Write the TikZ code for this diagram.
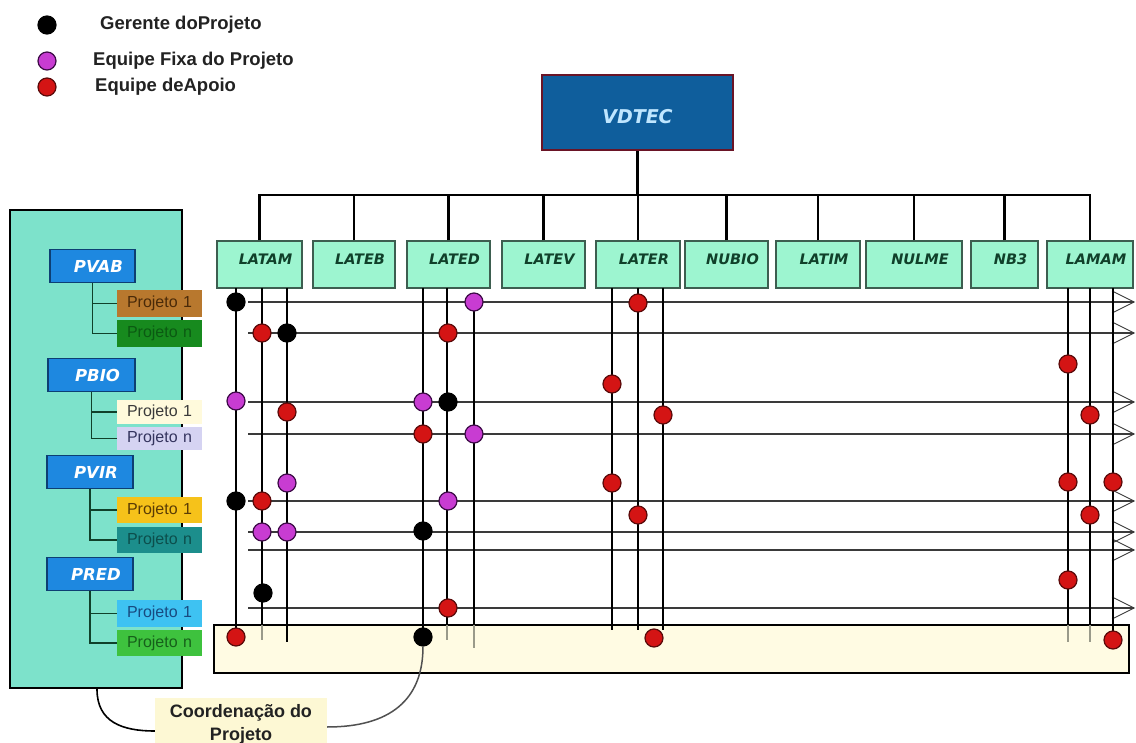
\documentclass[tikz,border=0pt]{standalone}
\usepackage{fontspec}
\setmainfont{Liberation Sans}
\newfontfamily\vfont{DejaVu Sans}[BoldItalicFont={DejaVu Sans Bold Oblique},ItalicFont={DejaVu Sans Oblique}]
\usetikzlibrary{arrows.meta}
\definecolor{mint}{HTML}{9DF5D0}
\definecolor{unitline}{HTML}{3D5E50}
\definecolor{unittxt}{HTML}{10402A}
\definecolor{panel}{HTML}{7DE2CB}
\definecolor{progblue}{HTML}{1E88E0}
\definecolor{progline}{HTML}{0D3F73}
\definecolor{vdblue}{HTML}{0F5E9C}
\definecolor{vdline}{HTML}{6A1426}
\definecolor{vdtxt}{HTML}{BFE6FF}
\definecolor{fixa}{HTML}{C83CD2}
\definecolor{fixaline}{HTML}{3C0A46}
\definecolor{apoio}{HTML}{D41414}
\definecolor{apoioline}{HTML}{5A0A0A}
\definecolor{pgray}{HTML}{3A3A3A}
\definecolor{coordfill}{HTML}{FFFBE3}
\definecolor{labelfill}{HTML}{FDF8D4}
\definecolor{legtxt}{HTML}{222222}
\definecolor{endgray}{HTML}{9A9A8A}
\definecolor{curvegray}{HTML}{505050}
\definecolor{prbrown}{HTML}{B8782E}\definecolor{tbrown}{HTML}{4A2A08}
\definecolor{prdkgreen}{HTML}{178A1E}\definecolor{tdkgreen}{HTML}{0B5A12}
\definecolor{prcream}{HTML}{FFFADC}\definecolor{tcream}{HTML}{3A3A3A}
\definecolor{prlav}{HTML}{D5D3F2}\definecolor{tlav}{HTML}{34345E}
\definecolor{prgold}{HTML}{F6C21A}\definecolor{tgold}{HTML}{5A3C05}
\definecolor{prteal}{HTML}{1C8E8C}\definecolor{tteal}{HTML}{0C4E4C}
\definecolor{prsky}{HTML}{3EC2F2}\definecolor{tsky}{HTML}{184A80}
\definecolor{prgreen}{HTML}{3EC23E}\definecolor{tgreen}{HTML}{16601A}
\begin{document}
\begin{tikzpicture}[x=1pt,y=-1pt,
	unit/.style={draw=unitline,fill=mint,line width=1.2pt,minimum height=47pt,inner sep=0pt,text height=11pt,text depth=11pt,text=unittxt,font=\vfont\bfseries\itshape\fontsize{14.5}{16}\selectfont,execute at begin node=\hspace*{12pt}},
	prog/.style={draw=progline,fill=progblue,line width=1.2pt,inner sep=0pt,text=white,font=\vfont\bfseries\itshape\fontsize{16.5}{18}\selectfont,execute at begin node=\hspace*{12pt}},
	proj/.style={minimum width=85pt,inner xsep=10pt,text width=65pt,align=left,inner ysep=0pt,font=\fontsize{16}{18}\selectfont},
	dot/.style={circle,minimum size=18pt,inner sep=0pt,line width=1.2pt},
	gm/.style={dot,fill=black,draw=black},
	fx/.style={dot,fill=fixa,draw=fixaline},
	ap/.style={dot,fill=apoio,draw=apoioline},
	legend/.style={anchor=west,inner sep=0pt,text=legtxt,font=\bfseries\fontsize{18.5}{20}\selectfont},
	pline/.style={line width=1.4pt,draw=pgray,-{Straight Barb[length=22pt,width=22pt,line width=0.8pt]}},
	vline/.style={line width=2.8pt}]
	\path[use as bounding box,fill=white] (0,0) rectangle (1136,743);
	\node[gm] (lgm) at (47,25) {};
	\node[fx] (lfx) at (47,61) {};
	\node[ap] (lap) at (47,87) {};
	\node[legend] (tgm) at (100,25) {Gerente doProjeto};
	\node[legend] (tfx) at (93,61) {Equipe Fixa do Projeto};
	\node[legend] (tap) at (95,87) {Equipe deApoio};
	\node[draw=vdline,fill=vdblue,line width=2.5pt,minimum width=191pt,minimum height=75pt,text height=23pt,text depth=0pt,text=vdtxt,font=\vfont\bfseries\itshape\fontsize{19}{22}\selectfont] (VDTEC) at (637.5,112.5) {VDTEC};
	\foreach \uname/\xx/\ww in {LATAM/259.5/85,LATEB/354/82,LATED/448.5/83,LATEV/543.5/83,LATER/638/84,NUBIO/726.5/83,LATIM/818/84,NULME/914/96,NB3/1004.5/67,LAMAM/1090/86}
		\node[unit,minimum width=\ww pt] (\uname) at (\xx,264.5) {\uname};
	\draw[line width=2.6pt] (VDTEC.south) -- (VDTEC.south |- 0,195);
	\draw[line width=2.6pt,line cap=rect] (LATAM.north |- 0,195) -- (LAMAM.north |- 0,195);
	\foreach \uname in {LATAM,LATEB,LATED,LATEV,LATER,NUBIO,LATIM,NULME,NB3,LAMAM}
		\draw[line width=2.6pt] (\uname.north) -- (\uname.north |- 0,195);
	\node[draw,line width=2.4pt,fill=panel,minimum width=172pt,minimum height=478pt,inner sep=0pt] (panel) at (96,449) {};
	\foreach \prog/\xx/\yy/\ww in {PVAB/92.5/266/85,PBIO/91.5/375/87,PVIR/90/472/86,PRED/90/574/86}
		\node[prog,minimum width=\ww pt,minimum height=33pt] (\prog) at (\xx,\yy) {\prog};
	\foreach \prog/\suf/\yy/\hh/\fc/\tc in {PVAB/1/303.5/27/prbrown/tbrown,PVAB/n/333.5/27/prdkgreen/tdkgreen,PBIO/1/412/24/prcream/tcream,PBIO/n/438.5/23/prlav/tlav,PVIR/1/510/26/prgold/tgold,PVIR/n/540/26/prteal/tteal,PRED/1/613.5/27/prsky/tsky,PRED/n/643/26/prgreen/tgreen}
		\node[proj,fill=\fc,text=\tc,minimum height=\hh pt] (\prog\suf) at (159.5,\yy) {Projeto \suf};
	\foreach \prog in {PVAB,PBIO,PVIR,PRED}
		\draw[line width=1.5pt,draw=unittxt] (\prog.south) |- (\prog1.west) (\prog.south) |- (\prog n.west);
	\node[draw,line width=2.4pt,fill=coordfill,minimum width=915pt,minimum height=48pt,inner sep=0pt] (team) at (671.5,649) {};
	\foreach \yy in {302,333,402,434,501,532,550,608}
		\draw[pline] (248,\yy) -- (1135,\yy);
	\foreach \xx/\yy in {236/637,262/625,287/642,423/637,447/625,612/630,638/630,663/630,1068/625,1090/625}
		\draw[vline] (\xx,288) -- (\xx,\yy);
	\foreach \xx/\yy in {262/640,447/640,1068/642,1090/642}
		\draw[line width=2pt,endgray] (\xx,625) -- (\xx,\yy);
	\draw[line width=2pt] (474,302) -- (474,625);
	\draw[line width=1.6pt,endgray] (474,625) -- (474,648);
	\draw[line width=2pt] (1113,288) -- (1113,640);
	\foreach \xx/\yy [count=\i] in {236/302,287/333,448/402,236/501,423/531,263/593,423/637}
		\node[gm] (gm\i) at (\xx,\yy) {};
	\foreach \xx/\yy [count=\i] in {474/302,236/401,423/402,474/434,287/483,448/501,262/532,287/532}
		\node[fx] (fx\i) at (\xx,\yy) {};
	\foreach \xx/\yy [count=\i] in {262/333,448/333,287/412,423/434,262/501,448/608,236/637,638/303,612/384,663/415,612/483,638/515,654/638,1068/364,1090/415,1068/482,1113/482,1090/515,1068/580,1113/640}
		\node[ap] (ap\i) at (\xx,\yy) {};
	\node[fill=labelfill,minimum width=172pt,minimum height=52pt,inner sep=0pt,align=center,text=legtxt,font=\bfseries\fontsize{18}{23}\selectfont] (coord) at (241,724) {Coordenação do\\Projeto};
	\draw[line width=1.6pt] (panel.south -| 97,0) .. controls (97,722) and (122,731) .. (coord.west |- 0,731);
	\draw[line width=1.5pt,curvegray] (gm7.south) .. controls (423,700) and (390,727) .. (coord.east |- 0,727);
\end{tikzpicture}
\end{document}
